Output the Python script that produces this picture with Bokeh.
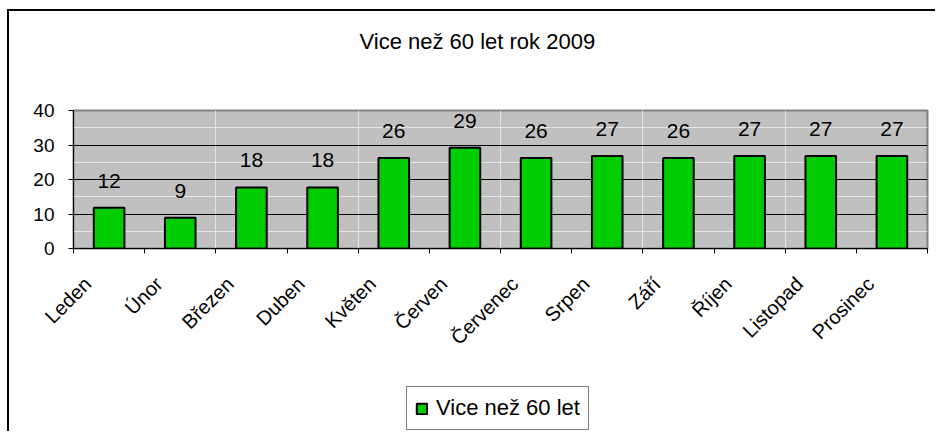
from math import pi
from bokeh.plotting import figure
from bokeh.layouts import column
from bokeh.models import (ColumnDataSource, FixedTicker, LinearAxis, Range1d,
                          LabelSet, Label, Legend, LegendItem, Grid)
from bokeh.core.properties import value
from bokeh.embed import file_html
from bokeh.resources import INLINE

months = ["Leden", "Únor", "Březen", "Duben", "Květen", "Červen", "Červenec",
          "Srpen", "Září", "Říjen", "Listopad", "Prosinec"]
values = [11.8, 8.9, 17.7, 17.7, 26.2, 29.2, 26.2, 26.8, 26.2, 26.8, 26.8, 26.8]
value_labels = ["12", "9", "18", "18", "26", "29", "26", "27", "26", "27", "27", "27"]
y_ticks = [0, 10, 20, 30, 40]
title_text = "Vice než 60 let rok 2009"
series_name = "Vice než 60 let"

FONT = "Liberation Sans"
GREEN = "#00CC00"
W = 926
HT, H1, H2 = 60, 300, 60
FL, FR = 64, 918
FT, FB = 39, 177  # frame top / bottom in chart canvas px

n = len(months)
xc = [i + 0.5 for i in range(n)]
label_pos = [x - 0.30 for x in xc]
src = ColumnDataSource(dict(x=xc, top=values, lab=value_labels))


def strip(height):
    f = figure(width=W, height=height, x_range=Range1d(0, 1), y_range=Range1d(0, 1),
               output_backend="svg", toolbar_location=None,
               min_border=0, x_axis_location=None, y_axis_location=None,
               background_fill_color="white", border_fill_color="white")
    f.outline_line_color = None
    f.xgrid.visible = False
    f.ygrid.visible = False
    return f


# title strip
t = strip(HT)
t.add_layout(Label(x=286, y=30, x_units="screen", y_units="screen",
                   text=title_text, text_align="left", text_baseline="alphabetic",
                   text_font=FONT, text_font_size="22px", text_color="black"))

# chart
p = figure(width=W, height=H1, x_range=Range1d(0, n), y_range=Range1d(0, 40),
           output_backend="svg", toolbar_location=None,
           min_border_left=FL, min_border_right=W - FR, min_border_top=FT,
           min_border_bottom=H1 - FB, x_axis_location=None, y_axis_location=None,
           background_fill_color="#C0C0C0", border_fill_color="white")
p.outline_line_color = "#808080"
p.outline_line_width = 2

yaxis = LinearAxis(ticker=FixedTicker(ticks=y_ticks))
yaxis.axis_line_color = "black"
yaxis.major_tick_line_color = "black"
yaxis.major_tick_out = 5
yaxis.major_tick_in = 0
yaxis.minor_tick_line_color = None
yaxis.major_label_text_font = FONT
yaxis.major_label_text_font_size = "19px"
yaxis.major_label_text_color = "black"
yaxis.major_label_standoff = 14
p.add_layout(yaxis, "left")

xtick_axis = LinearAxis(ticker=FixedTicker(ticks=list(range(n + 1))))
xtick_axis.axis_line_color = "black"
xtick_axis.major_tick_line_color = "black"
xtick_axis.major_tick_out = 5
xtick_axis.major_tick_in = 0
xtick_axis.minor_tick_line_color = None
xtick_axis.major_label_text_font_size = "0px"
xtick_axis.major_label_standoff = 0
p.add_layout(xtick_axis, "below")

xlab_axis = LinearAxis(ticker=FixedTicker(ticks=label_pos),
                       major_label_overrides={x: m for x, m in zip(label_pos, months)})
xlab_axis.axis_line_color = None
xlab_axis.major_tick_line_color = None
xlab_axis.minor_tick_line_color = None
xlab_axis.major_label_orientation = pi / 4
xlab_axis.major_label_text_font = FONT
xlab_axis.major_label_text_font_size = "20px"
xlab_axis.major_label_text_color = "black"
xlab_axis.major_label_standoff = 21
p.add_layout(xlab_axis, "below")

p.add_layout(Grid(dimension=1, ticker=FixedTicker(ticks=y_ticks),
                  grid_line_color="black", grid_line_width=1))

bars = p.vbar(x="x", top="top", width=0.43, source=src,
              fill_color=GREEN, line_color="black", line_width=2)

p.add_layout(LabelSet(x="x", y="top", text="lab", source=src, y_offset=20,
                      text_align="center", text_baseline="alphabetic",
                      text_font=value(FONT), text_font_size="21px",
                      text_color="black"))

# legend strip: key renderer hidden, its style only feeds the legend swatch
q = strip(H2)
key = q.vbar(x=[0.5], top=[1], width=0.1, fill_color=GREEN,
             line_color="black", line_width=2, visible=False)
legend = Legend(items=[LegendItem(label=series_name, renderers=[key])],
                location=(406 - 9 - FL, 1))
legend.border_line_color = "black"
legend.border_line_width = 1
legend.background_fill_color = "white"
legend.background_fill_alpha = 1
legend.inactive_fill_alpha = 0
legend.label_text_font = FONT
legend.label_text_font_size = "22px"
legend.label_text_color = "black"
legend.glyph_width = 13
legend.glyph_height = 13
legend.padding = 8
legend.margin = 0
legend.label_standoff = 8
q.add_layout(legend, "center")

layout = column(t, p, q, spacing=0)
layout.styles = {"border-left": "2px solid black", "border-top": "2px solid black",
                 "margin-left": "7px", "margin-top": "9px"}

open("out.html", "w").write(file_html(layout, INLINE))
